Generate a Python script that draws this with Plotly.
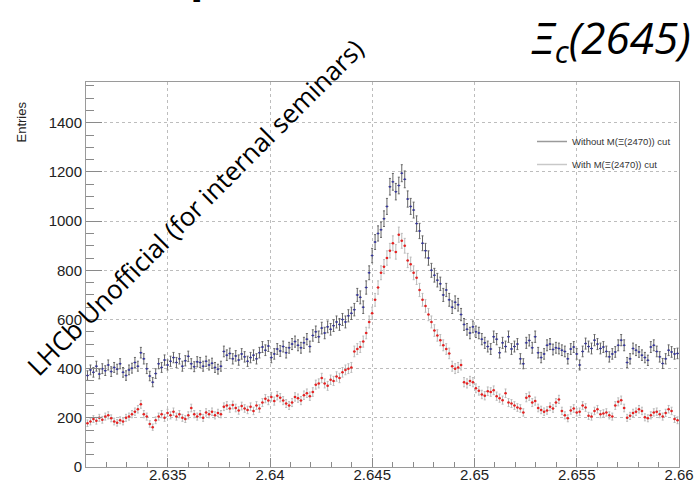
import numpy as np
import plotly.graph_objects as go

# Histogram binning: 200 bins between 2.631 and 2.66 GeV
x_lo, x_hi, n_bins = 2.631, 2.66, 200

# Bin contents, sample without the M(Xi(2470)) cut
without_cut = [
    372, 395, 385, 410, 378, 400, 392, 415, 388, 405, 398, 420, 385, 372, 395, 402, 425, 410,
    465, 440,
    400, 370, 345, 380,
    420, 405, 435, 415, 430, 445, 425, 440, 410, 432, 450, 420, 408, 428,
    425, 410, 430, 415, 422, 405, 398, 410,
    470, 455, 462, 440, 452, 435, 460, 448, 430, 445, 455, 440, 465,
    488, 475, 492, 445, 460, 480, 472, 490, 465, 485,
    500, 510, 495, 485, 505, 520, 490,
    535, 550, 530, 565,
    545, 570, 560, 575, 590, 580,
    600, 590, 615, 625,
    640, 700, 690, 650, 730, 790, 860, 915, 950, 965, 1010,
    1060, 1140, 1160, 1120, 1145, 1195, 1170, 1090, 1060, 1045,
    990, 960, 910, 880, 850, 800, 780, 760, 745, 700,
    720, 680, 650, 670, 660, 620, 580, 560, 545, 570, 550, 545, 520, 505, 490, 480,
    530, 520, 465, 505, 490, 530, 480, 490, 500, 440, 420, 505, 515, 485, 530, 465, 445,
    460, 495, 500, 478, 485, 482,
    475, 470, 440, 480, 488, 460, 415, 470, 502, 490, 482, 516, 500, 482, 488, 470, 448,
    460, 468, 495, 516, 495, 425, 440, 482, 475, 468, 455, 445, 434, 488, 495, 470, 448,
    421, 440, 475, 468, 460, 462,
]

# Bin contents, sample with the M(Xi(2470)) cut
with_cut = [
    178, 185, 195, 188, 200, 192, 205, 210, 198, 185, 180, 190, 185, 200, 205, 215, 225, 235,
    255, 215,
    205, 175, 162, 190,
    205, 215, 200, 220, 210, 225, 205, 215, 200, 195, 210, 240, 215, 205,
    215, 200, 222, 215, 225, 210, 220, 215,
    245, 250, 238, 252, 240, 230, 248, 238, 232, 245, 228, 250, 238,
    262, 278, 270, 285, 268, 290, 282, 270, 258, 250,
    262, 285, 280, 270, 292, 300, 288, 305, 335, 340, 362,
    340, 330, 355, 350, 368, 362, 385, 395, 400, 405,
    470, 480, 488, 510, 545, 590, 625, 680, 730, 790, 815,
    850, 880, 910, 875, 945, 920, 900, 840, 825, 790,
    770, 720, 680, 655, 620, 590, 555, 535, 516, 495,
    480, 462, 410, 400, 405, 415, 345, 340, 350, 345, 320, 310, 295, 290, 308, 305,
    312, 288, 280, 272, 300, 262, 258, 250, 242, 238, 222, 282, 288, 262, 268, 240, 232,
    225, 230, 245, 238, 262, 275,
    228, 210, 198, 230, 238, 222, 225, 250, 242, 208, 205, 228, 235, 215, 218, 222, 210,
    205, 250, 265, 272, 240, 200, 208, 220, 225, 235, 228, 202, 198, 210, 222, 225, 215,
    205, 220, 235, 228, 195, 190,
]

series_names = ["Without M(\u039e(2470)) cut", "With M(\u039e(2470)) cut"]
x_tick_vals = [2.635, 2.64, 2.645, 2.65, 2.655, 2.66]
x_tick_text = ["2.635", "2.64", "2.645", "2.65", "2.655", "2.66"]
y_tick_vals = [0, 200, 400, 600, 800, 1000, 1200, 1400]

bin_w = (x_hi - x_lo) / n_bins
centers = x_lo + (np.arange(n_bins) + 0.5) * bin_w

fig = go.Figure()


def hist_trace(values, bar_color, marker_color, msize):
    v = np.asarray(values, dtype=float)
    return go.Scatter(
        x=centers, y=v, mode="markers", showlegend=False,
        marker=dict(size=msize, color=marker_color, line=dict(width=0)),
        error_y=dict(type="data", array=np.sqrt(v), color=bar_color, thickness=1, width=1),
        error_x=dict(type="constant", value=bin_w / 2, color=bar_color, thickness=1, width=0),
    )


fig.add_trace(hist_trace(without_cut, "#666666", "#3030a8", 2))
fig.add_trace(hist_trace(with_cut, "#bababa", "#e82020", 2.5))

# Legend entries drawn as plain grey line samples
for name, col in zip(series_names, ["#9a9a9a", "#c8c8c8"]):
    fig.add_trace(go.Scatter(x=[None], y=[None], mode="lines", name=name,
                             line=dict(color=col, width=1.5), legendgroup=name))

W, H = 699, 484
L, R, T, B = 86, 20, 82, 17
pw, ph = W - L - R, H - T - B


def px(xp):
    return (xp - L) / pw


def py(yp):
    return (H - B - yp) / ph


# white box behind the legend covering the grid
fig.add_shape(type="rect", xref="paper", yref="paper", layer="between",
              x0=px(528), x1=1.0, y0=py(177), y1=py(128),
              fillcolor="white", line=dict(width=0))

axis_common = dict(
    showline=True, linecolor="#9a9a9a", linewidth=1, mirror=True,
    ticks="inside", tickcolor="#8a8a8a", tickwidth=1,
    showgrid=True, gridcolor="#bdbdbd", griddash="dot", gridwidth=1,
    zeroline=False,
    tickfont=dict(family="Liberation Sans, Arial, sans-serif", size=15, color="#222222"),
)

fig.update_xaxes(
    range=[x_lo, x_hi], tickmode="array", tickvals=x_tick_vals, ticktext=x_tick_text,
    ticklen=9, ticklabelstandoff=-6,
    minor=dict(tickmode="linear", tick0=2.635, dtick=0.001, ticks="inside", ticklen=5,
               tickcolor="#8a8a8a", showgrid=False),
    **axis_common,
)
fig.update_yaxes(
    range=[0, 1566], tickmode="array", tickvals=y_tick_vals,
    ticklen=16,
    minor=dict(tickmode="linear", tick0=0, dtick=50, ticks="inside", ticklen=8,
               tickcolor="#8a8a8a", showgrid=False),
    **axis_common,
)

fig.update_layout(
    width=W, height=H,
    margin=dict(l=L, r=R, t=T, b=B, autoexpand=False),
    paper_bgcolor="white", plot_bgcolor="white",
    legend=dict(x=px(532), y=py(127), xanchor="left", yanchor="top",
                bgcolor="rgba(0,0,0,0)", borderwidth=0,
                font=dict(family="Liberation Sans, Arial, sans-serif", size=9.5, color="#333333"),
                tracegroupgap=4, itemwidth=30),
)

annotations = [
    dict(text="Entries", x=px(21), y=py(100), xref="paper", yref="paper",
         xanchor="center", yanchor="top", textangle=-90, showarrow=False,
         font=dict(family="Liberation Sans, Arial, sans-serif", size=13, color="#222222")),
    dict(text="<i>\u039e<sub>c</sub>(2645)</i>", x=px(611), y=py(40), xref="paper", yref="paper",
         xanchor="center", yanchor="middle", showarrow=False,
         font=dict(family="Open Sans, sans-serif", size=44, color="black")),
    dict(text="LHCb Unofficial (for internal seminars)", x=px(195), y=py(207),
         xref="paper", yref="paper", xanchor="center", yanchor="middle",
         textangle=-45, showarrow=False,
         font=dict(family="Open Sans, sans-serif", size=26, color="black")),
    dict(text="<b>p</b>", x=px(204), y=py(6), xref="paper", yref="paper",
         xanchor="center", yanchor="bottom", showarrow=False,
         font=dict(family="Open Sans, sans-serif", size=44, color="black")),
]
fig.update_layout(annotations=annotations)

fig.write_html("out.html")
